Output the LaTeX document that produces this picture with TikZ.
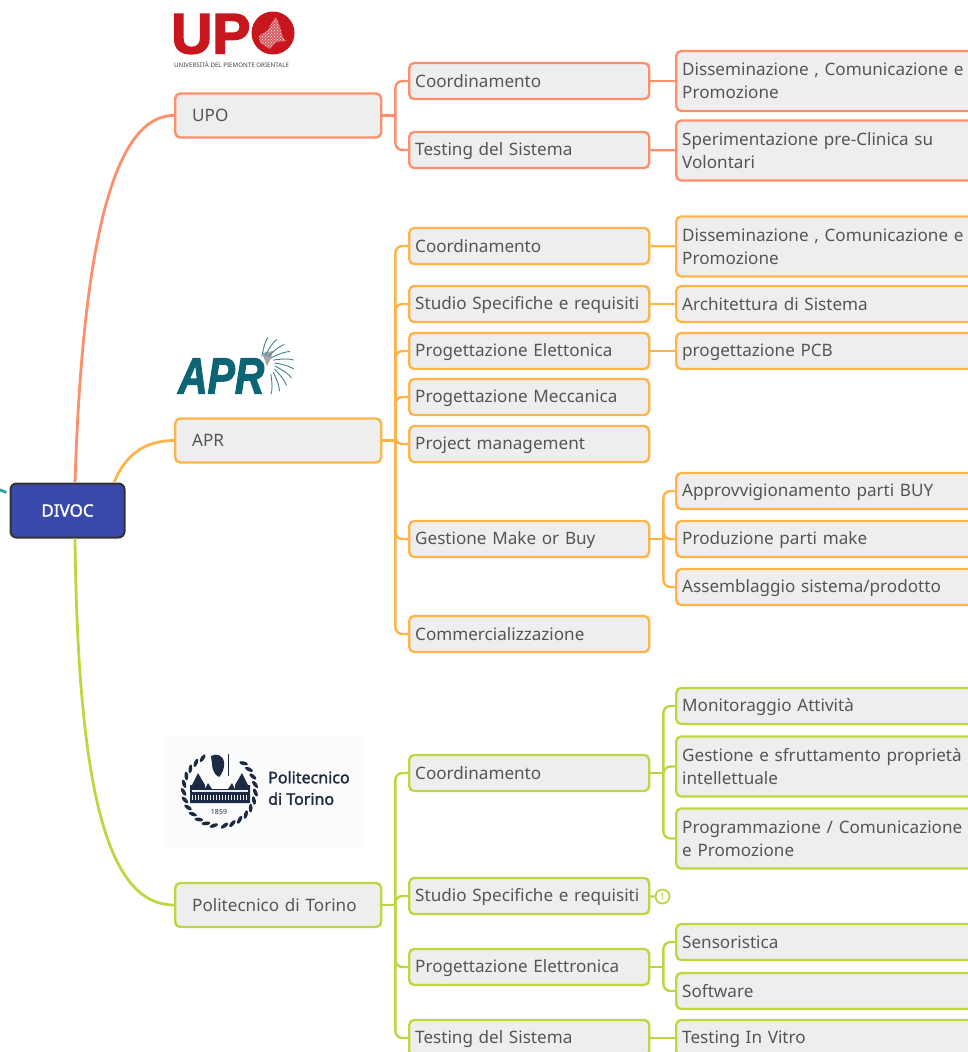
\documentclass[tikz,border=0pt]{standalone}
\usepackage{fontspec}
\setmainfont{Noto Sans}
\newfontfamily\heavyfont[FakeBold=1.6]{Noto Sans}
\newfontfamily\logofont[FakeBold=2.6]{Liberation Sans Bold}
\newfontfamily\aprfont[FakeBold=2.4]{Liberation Sans Bold Italic}
\usetikzlibrary{patterns}
\definecolor{upoline}{HTML}{FF8F6B}
\definecolor{aprline}{HTML}{FFB44A}
\definecolor{polline}{HTML}{C0D641}
\definecolor{boxfill}{HTML}{EEEEEE}
\definecolor{boxtext}{HTML}{555555}
\definecolor{rootfill}{HTML}{3949AB}
\definecolor{stubline}{HTML}{26A69A}
\definecolor{upored}{HTML}{C8161E}
\definecolor{aprteal}{HTML}{0C6474}
\definecolor{polnavy}{HTML}{1D2A44}
\begin{document}
\begin{tikzpicture}[x=1pt,y=-1pt]
      \useasboundingbox (0,0) rectangle (968,1052);
      \clip (0,0) rectangle (968,1052);
      \tikzset{BoxStyle/.style={draw=branchcol, fill=boxfill, line width=2.4pt,
          rounded corners=5pt, anchor=west, align=left, text=boxtext,
          font=\fontsize{17.1}{23}\selectfont, inner ysep=0pt,
          execute at begin node=\rule{0pt}{15pt},
          execute at end node=\rule[-3pt]{0pt}{3pt}}}
      \tikzset{TopStyle/.style={BoxStyle, minimum height=44pt, inner xsep=17pt, text width=172pt}}
      \tikzset{MidStyle/.style={BoxStyle, minimum height=36pt, inner xsep=6pt, text width=228pt}}
      \tikzset{LeafStyle/.style={BoxStyle, minimum height=36pt, inner xsep=6pt, text width=320pt}}
      \tikzset{TallStyle/.style={LeafStyle, minimum height=60pt}}
      \tikzset{EdgeStyle/.style={draw=branchcol, line width=2.4pt, rounded corners=7pt}}
      \tikzset{RootEdge/.style={line width=2.8pt}}

      \node[draw=black!80, fill=rootfill, line width=2pt, rounded corners=6pt,
        minimum width=114pt, minimum height=54pt, text=white,
        font=\heavyfont\fontsize{17}{18}\selectfont] (divoc) at (67.5,510.5) {DIVOC};
      \coordinate (stub) at (-3,489);
      \draw[RootEdge, draw=stubline, shorten >=4pt] (stub) to[bend left=10] (divoc.165);

      \begin{scope}
        \colorlet{branchcol}{upoline}
        \node[TopStyle] (upo) at (174,115.5) {UPO};
        \node[MidStyle] (upoCoord) at (408,81) {Coordinamento};
        \node[MidStyle] (upoTest) at (408,150) {Testing del Sistema};
        \node[TallStyle] (upoDiss) at (675,81) {Disseminazione , Comunicazione e\\Promozione};
        \node[TallStyle] (upoSper) at (675,150.5) {Sperimentazione pre-Clinica su\\Volontari};
        \path (upo.east) ++(13,0) coordinate (upoBus);
        \draw[EdgeStyle] (upo.east) -- (upoBus);
        \foreach \kid in {upoCoord,upoTest}
          \draw[EdgeStyle] (upoBus) |- (\kid.west);
        \draw[EdgeStyle] (upoCoord) -- (upoDiss);
        \draw[EdgeStyle] (upoTest) -- (upoSper);
        \draw[RootEdge, draw=branchcol] (divoc.75) .. controls (82,260) and (110,115) .. (upo.west);
      \end{scope}

      \begin{scope}
        \colorlet{branchcol}{aprline}
        \node[TopStyle] (apr) at (174,440.5) {APR};
        \node[MidStyle] (aprCoord) at (408,246) {Coordinamento};
        \node[MidStyle] (aprStudio) at (408,304) {Studio Specifiche e requisiti};
        \node[MidStyle] (aprElet) at (408,351) {Progettazione Elettonica};
        \node[MidStyle] (aprMecc) at (408,397) {Progettazione Meccanica};
        \node[MidStyle] (aprProj) at (408,444) {Project management};
        \node[MidStyle] (aprMake) at (408,539) {Gestione Make or Buy};
        \node[MidStyle] (aprComm) at (408,634) {Commercializzazione};
        \node[TallStyle] (aprDiss) at (675,246.5) {Disseminazione , Comunicazione e\\Promozione};
        \node[LeafStyle] (aprArch) at (675,304) {Architettura di Sistema};
        \node[LeafStyle] (aprPcb) at (675,351) {progettazione PCB};
        \node[LeafStyle] (aprAppr) at (675,491) {Approvvigionamento parti BUY};
        \node[LeafStyle] (aprProd) at (675,539) {Produzione parti make};
        \node[LeafStyle] (aprAss) at (675,587) {Assemblaggio sistema/prodotto};
        \path (apr.east) ++(13,0) coordinate (aprBus);
        \draw[EdgeStyle] (apr.east) -- (aprBus);
        \foreach \kid in {aprCoord,aprStudio,aprElet,aprMecc,aprProj,aprMake,aprComm}
          \draw[EdgeStyle] (aprBus) |- (\kid.west);
        \draw[EdgeStyle] (aprCoord) -- (aprDiss);
        \draw[EdgeStyle] (aprStudio) -- (aprArch);
        \draw[EdgeStyle] (aprElet) -- (aprPcb);
        \path (aprMake.east) ++(13,0) coordinate (makeBus);
        \draw[EdgeStyle] (aprMake.east) -- (makeBus);
        \foreach \kid in {aprAppr,aprProd,aprAss}
          \draw[EdgeStyle] (makeBus) |- (\kid.west);
        \draw[RootEdge, draw=branchcol] (divoc.31) .. controls (125,455) and (145,440.5) .. (apr.west);
      \end{scope}

      \begin{scope}
        \colorlet{branchcol}{polline}
        \node[TopStyle] (pol) at (174,905) {Politecnico di Torino};
        \node[MidStyle] (polCoord) at (408,773) {Coordinamento};
        \node[MidStyle] (polStudio) at (408,896) {Studio Specifiche e requisiti};
        \node[MidStyle] (polElet) at (408,967) {Progettazione Elettronica};
        \node[MidStyle] (polTest) at (408,1038) {Testing del Sistema};
        \node[LeafStyle] (polMoni) at (675,706) {Monitoraggio Attività};
        \node[TallStyle] (polGest) at (675,766.5) {Gestione e sfruttamento proprietà\\intellettuale};
        \node[TallStyle] (polProg) at (675,838.5) {Programmazione / Comunicazione\\e Promozione};
        \node[LeafStyle] (polSens) at (675,942) {Sensoristica};
        \node[LeafStyle] (polSoft) at (675,991) {Software};
        \node[LeafStyle] (polVitro) at (675,1038) {Testing In Vitro};
        \node[circle, draw=branchcol, fill=white, line width=1.8pt, minimum size=14pt, inner sep=0pt,
          text=branchcol, font=\heavyfont\fontsize{9}{9}\selectfont] (polBadge) at (662.5,896.5) {1};
        \path (pol.east) ++(13,0) coordinate (polBus);
        \draw[EdgeStyle] (pol.east) -- (polBus);
        \foreach \kid in {polCoord,polStudio,polElet,polTest}
          \draw[EdgeStyle] (polBus) |- (\kid.west);
        \path (polCoord.east) ++(13,0) coordinate (coordBus);
        \draw[EdgeStyle] (polCoord.east) -- (coordBus);
        \foreach \kid in {polMoni,polGest,polProg}
          \draw[EdgeStyle] (coordBus) |- (\kid.west);
        \path (polElet.east) ++(13,0) coordinate (eletBus);
        \draw[EdgeStyle] (polElet.east) -- (eletBus);
        \foreach \kid in {polSens,polSoft}
          \draw[EdgeStyle] (eletBus) |- (\kid.west);
        \draw[EdgeStyle] (polStudio) -- (polBadge);
        \draw[EdgeStyle] (polTest) -- (polVitro);
        \draw[RootEdge, draw=branchcol] (divoc.-75) .. controls (78,800) and (110,905) .. (pol.west);
      \end{scope}

      \node[text=upored, font=\logofont\fontsize{57}{57}\selectfont, inner sep=0pt, anchor=west] (upoMark) at (171,34) {UP};
      \fill[upored] (273,33) circle (21.5);
      \fill[white, opacity=.3] (276,17) -- (280,27) -- (283,37) -- (286,41) -- (276,42)
        -- (270,49) -- (260,43) -- (259,36) -- (268,30) -- (272,22) -- cycle;
      \path[pattern=crosshatch dots, pattern color=white] (276,17) -- (280,27) -- (283,37) -- (286,41) -- (276,42)
        -- (270,49) -- (260,43) -- (259,36) -- (268,30) -- (272,22) -- cycle;
      \node[text=black!75, font=\fontsize{6.2}{7}\selectfont, inner sep=0pt] (upoName) at (231.5,65) {UNIVERSITÀ DEL PIEMONTE ORIENTALE};

      \node[text=aprteal, font=\aprfont\fontsize{51}{51}\selectfont, inner sep=0pt, anchor=west, xscale=.8] (aprMark) at (178,376) {APR};
      \coordinate (fanHub) at (265,366);
      \fill[black!35] (262,353) -- (273,351) -- (271,358) -- (267,366) -- cycle;
      \foreach \ang in {78,60,...,-84}
        \draw[aprteal!80, line width=.9pt] ([shift={(\ang-24:10)}]fanHub) .. controls ([shift={(\ang-10:20)}]fanHub)
          and ([shift={(\ang-4:26)}]fanHub) .. ([shift={(\ang:29)}]fanHub);

      \fill[black!1.5] (163,735) rectangle (365,848);
      \foreach \ang in {-82,-69,...,60,118,131,...,262}
        \fill[polnavy, shift={(219.5,790)}, rotate=\ang, shift={(36,0)}, rotate=28] (0,0) ellipse (1.9 and 4.4);
      \fill[polnavy] (190,803) -- (190,785) -- (192,785) -- (198,773) -- (205,785) -- (205,789) -- (208,783) -- (212,789)
        -- (228,789) -- (232,783) -- (235,789) -- (235,785) -- (242,773) -- (248,785) -- (250,785) -- (250,803) -- cycle;
      \fill[black!8] (192,790) rectangle (248,792);
      \foreach \win in {192,195,...,246}
        \fill[black!8] (\win,795) rectangle ++(1.2,5);
      \fill[polnavy] (211,756) .. controls (216,753) and (223,755) .. (224,762) .. controls (225,768) and (222,774) .. (219,777)
        .. controls (214,775) and (212,768) .. (212,764) -- cycle;
      \draw[polnavy, line width=1pt] (228,754) -- (228,776);
      \node[text=polnavy, font=\fontsize{7}{8}\selectfont, inner sep=0pt] (polYear) at (219,812) {1859};
      \node[text=polnavy, font=\heavyfont\fontsize{16}{21.5}\selectfont, inner sep=0pt, align=left, anchor=west] (polMark) at (268,788) {Politecnico\\di Torino};
\end{tikzpicture}
\end{document}
